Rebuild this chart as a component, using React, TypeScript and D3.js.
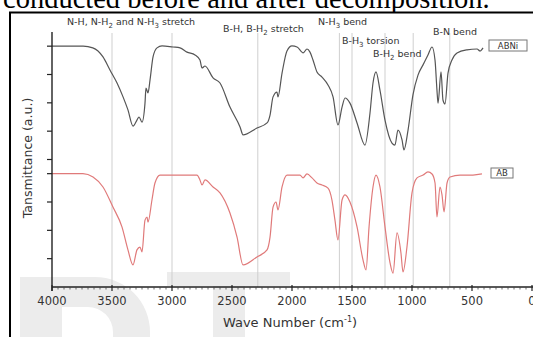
import React from "react";
import * as d3 from "d3";

// ABNi (top, black) spectrum: wavenumber (cm-1) and transmittance (a.u.)
const abniWn = [4000,3740,3660,3575,3517,3458,3408,3367,3325,3292,3275,3250,3225,3217,3200,3183,3158,3125,3083,2992,2933,2875,2808,2767,2750,2725,2658,2600,2517,2433,2408,2292,2208,2183,2158,2125,2117,2083,2042,2000,1958,1917,1908,1875,1850,1825,1792,1750,1700,1658,1617,1583,1558,1517,1458,1392,1350,1325,1300,1267,1225,1167,1142,1117,1083,1067,1033,992,950,908,867,833,808,792,783,758,742,725,700,667,625,542,458,433,408];
const abniT = [8.5,8.5,8.44,8.12,7.66,7.2,6.71,6.25,5.68,5.89,6.0,5.82,6.49,7.02,6.85,7.31,8.12,8.44,8.51,8.47,8.44,8.29,8.19,8.01,7.73,7.8,7.38,7.2,6.35,5.65,5.37,5.61,5.79,6.07,6.71,6.88,6.71,7.55,8.33,8.51,8.47,8.29,8.26,8.4,8.29,8.01,7.59,7.41,7.13,6.71,5.72,6.35,6.67,6.49,5.79,5.01,6.14,7.2,7.59,6.95,5.89,5.08,5.01,5.54,5.19,4.84,5.54,6.78,7.48,7.84,8.19,8.47,8.0,6.95,6.49,7.59,6.6,6.46,7.55,8.01,8.26,8.37,8.4,8.33,8.44];

// AB (bottom, red) spectrum
const abWn = [4000,3742,3658,3575,3492,3417,3367,3325,3292,3267,3250,3225,3208,3200,3167,3142,3100,2992,2792,2767,2750,2725,2658,2600,2517,2458,2408,2292,2208,2183,2158,2133,2117,2083,2042,1933,1908,1875,1833,1792,1750,1700,1667,1642,1617,1583,1558,1517,1458,1408,1383,1358,1325,1300,1267,1225,1183,1158,1125,1092,1075,1042,1000,958,908,867,833,808,792,767,750,733,708,683,600,492,417];
const abT = [4.0,4.0,3.88,3.53,2.82,2.12,1.31,0.78,1.31,1.41,1.24,2.36,2.47,2.29,3.07,3.67,3.95,3.95,3.95,3.78,3.6,3.78,3.53,3.32,2.61,1.76,0.78,1.06,1.31,1.76,2.82,3.0,2.72,3.53,3.95,3.95,3.85,3.99,3.85,3.67,3.6,3.49,3.07,2.36,1.66,3.07,3.25,3.0,2.12,0.95,0.6,2.12,3.53,3.95,3.53,2.12,0.85,0.49,1.91,1.2,0.53,1.41,3.32,3.85,3.95,4.06,3.99,3.67,2.47,3.53,3.25,2.65,3.67,3.88,3.95,3.95,3.99];

const xTicks = [4000, 3500, 3000, 2500, 2000, 1500, 1000, 500, 0];
const yTicks = [1, 2, 3, 4, 4.5, 5.5, 6.5, 7.5, 8.5];
const guideWn = [3500, 3000, 2285, 1605, 1500, 1225, 990, 685];

const W = 533, H = 337;

export default function App() {
  const x = d3.scaleLinear().domain([4000, 0]).range([52, 532]);
  const y = d3.scaleLinear().domain([0, 9]).range([287, 32]);
  const minor = d3.range(0, 4001, 50).filter((v) => v % 500 !== 0);

  const line = d3
    .line<[number, number]>()
    .x((d) => x(d[0]))
    .y((d) => y(d[1]))
    .curve(d3.curveMonotoneX);

  const abni = abniWn.map((w, i) => [w, abniT[i]] as [number, number]);
  const ab = abWn.map((w, i) => [w, abT[i]] as [number, number]);

  const sans = "DejaVu Sans";
  const ann = { fontFamily: sans, fontSize: 9.5, fill: "#333" } as const;
  const sub = (t: string) => (
    <tspan fontSize={7} dy={2.5}>{t}</tspan>
  );
  const up = () => <tspan dy={-2.5}> </tspan>;

  return (
    <div style={{ position: "absolute", left: 0, top: 0 }}>
      <svg width={W} height={H} style={{ display: "block", background: "#fff" }}>
        {/* caption fragment */}
        <text x={3} y={8} fontFamily="Liberation Serif" fontSize={28.5} fill="#000">
          conducted before and after decomposition.
        </text>
        <rect x={10} y={12} width={W} height={H} fill="#fff" />
        {/* watermark */}
        <g fill="#ececec">
          <rect x={20} y={277} width={22} height={60} />
          <path d="M42,277 L95,277 A55,55 0 0 1 150,332 L150,337 L113,337 L113,332 A25,25 0 0 0 88,307 L62,307 L62,337 L42,337 Z" />
          <rect x={167} y={272} width={123} height={14} />
          <rect x={213} y={286} width={32} height={51} />
        </g>
        {/* frame */}
        <line x1={10} x2={10} y1={12} y2={H} stroke="#000" strokeWidth={2} />
        <line x1={9} x2={W} y1={12.5} y2={12.5} stroke="#000" strokeWidth={2} />

        {/* guide lines */}
        {guideWn.map((w) => (
          <line key={w} x1={x(w)} x2={x(w)} y1={33} y2={287} stroke="#cfcfcf" strokeWidth={1} />
        ))}

        {/* spectra */}
        <path d={line(abni) ?? ""} fill="none" stroke="#555" strokeWidth={1.2} />
        <path d={line(ab) ?? ""} fill="none" stroke="#e07a7a" strokeWidth={1.2} />

        {/* y axis */}
        <line x1={52} x2={52} y1={32} y2={291} stroke="#222" strokeWidth={1.4} />
        {yTicks.map((t) => (
          <line key={t} x1={47} x2={52} y1={y(t)} y2={y(t)} stroke="#222" strokeWidth={1.2} />
        ))}
        {/* x axis */}
        <line x1={52} x2={533} y1={287} y2={287} stroke="#222" strokeWidth={1.4} />
        {xTicks.map((t) => (
          <line key={t} x1={x(t)} x2={x(t)} y1={285} y2={291} stroke="#222" strokeWidth={1.2} />
        ))}
        {minor.map((t) => (
          <line key={t} x1={x(t)} x2={x(t)} y1={287} y2={289.5} stroke="#444" strokeWidth={0.8} />
        ))}
        {xTicks.map((t) => (
          <text key={t} x={x(t)} y={305} textAnchor="middle" fontFamily={sans} fontSize={11.5} fill="#333">
            {t}
          </text>
        ))}
        <text x={290} y={327} textAnchor="middle" fontFamily={sans} fontSize={13} fill="#333">
          Wave Number (cm<tspan fontSize={8} dy={-5}>-1</tspan><tspan dy={5}>)</tspan>
        </text>
        <text transform="translate(32,158) rotate(-90)" textAnchor="middle" fontFamily={sans} fontSize={12.5} fill="#333">
          Tansmittance (a.u.)
        </text>

        {/* annotations */}
        <text x={67} y={25} {...ann}>
          N-H, N-H{sub("2")}<tspan dy={-2.5}> and N-H</tspan>{sub("3")}<tspan dy={-2.5}> stretch</tspan>
        </text>
        <text x={223} y={32} {...ann}>
          B-H, B-H{sub("2")}<tspan dy={-2.5}> stretch</tspan>
        </text>
        <text x={318} y={25} {...ann}>
          N-H{sub("3")}<tspan dy={-2.5}> bend</tspan>
        </text>
        <text x={342} y={44} {...ann}>
          B-H{sub("3")}<tspan dy={-2.5}> torsion</tspan>
        </text>
        <text x={373} y={57} {...ann}>
          B-H{sub("2")}<tspan dy={-2.5}> bend</tspan>
        </text>
        <text x={433} y={35} {...ann}>B-N bend</text>

        {/* legend boxes */}
        <rect x={489} y={40} width={38} height={11} fill="#fff" stroke="#777" strokeWidth={1} />
        <text x={508} y={48.5} textAnchor="middle" fontFamily={sans} fontSize={8.5} fill="#333">ABNi</text>
        <rect x={491} y={168} width={22} height={10} fill="#fff" stroke="#777" strokeWidth={1} />
        <text x={502} y={176} textAnchor="middle" fontFamily={sans} fontSize={8.5} fill="#333">AB</text>
      </svg>
    </div>
  );
}
